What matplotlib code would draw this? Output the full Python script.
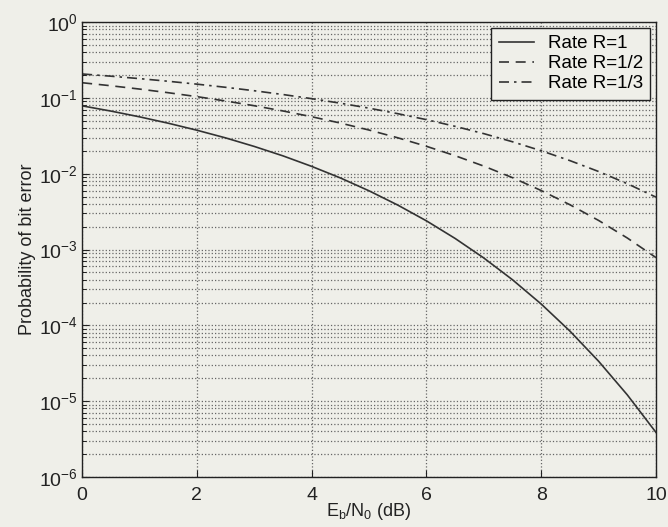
import matplotlib
matplotlib.use("Agg")
import matplotlib.pyplot as plt
from matplotlib.ticker import LogLocator, NullFormatter

plt.rcParams['font.family'] = ['Liberation Sans', 'DejaVu Sans']
plt.rcParams['mathtext.fontset'] = 'custom'
plt.rcParams['mathtext.rm'] = 'Liberation Sans'
plt.rcParams['mathtext.it'] = 'Liberation Sans'
plt.rcParams['mathtext.bf'] = 'Liberation Sans'

ebn0_db = [0, 0.5, 1, 1.5, 2, 2.5, 3, 3.5, 4, 4.5, 5, 5.5, 6, 6.5, 7, 7.5, 8, 8.5, 9, 9.5, 10]
pb_r1 = [0.0786, 0.0671, 0.0563, 0.0464, 0.0375, 0.0297, 0.0229, 0.0172, 0.0125, 0.0088,
         0.00595, 0.00386, 0.00239, 0.0014, 7.73e-4, 3.99e-4, 1.91e-4, 8.4e-5, 3.36e-5,
         1.21e-5, 3.87e-6]
pb_r12 = [0.1587, 0.1448, 0.1309, 0.1172, 0.104, 0.0911, 0.0789, 0.0673, 0.0565, 0.0466,
          0.0377, 0.0298, 0.023, 0.0173, 0.0126, 0.00887, 0.006, 0.0039, 0.00242, 0.00142,
          7.83e-4]
pb_r13 = [0.2071, 0.1936, 0.1798, 0.1659, 0.152, 0.1381, 0.1244, 0.1109, 0.0978, 0.0852,
          0.0733, 0.062, 0.0517, 0.0422, 0.0338, 0.0264, 0.0201, 0.0149, 0.0107, 0.00739,
          0.00491]
labels = ['Rate R=1', 'Rate R=1/2', 'Rate R=1/3']
xticks = [0, 2, 4, 6, 8, 10]
yexps = [-6, -5, -4, -3, -2, -1, 0]

bg = '#efefe9'
fig = plt.figure(figsize=(6.68, 5.27), dpi=100, facecolor=bg)
ax = fig.add_axes([0.123, 0.095, 0.859, 0.863], facecolor=bg)

lc = '#333333'
ax.semilogy(ebn0_db, pb_r1, '-', color=lc, lw=1.2, label=labels[0])
ax.semilogy(ebn0_db, pb_r12, '--', color=lc, lw=1.2, label=labels[1], dashes=(6, 4))
ax.semilogy(ebn0_db, pb_r13, '-.', color=lc, lw=1.2, label=labels[2], dashes=(6, 3, 1.5, 3))

ax.set_xlim(0, 10)
ax.set_ylim(1e-6, 1)
ax.set_xticks(xticks)
ax.set_xticklabels([str(v) for v in xticks])
ax.set_yticks([10.0 ** e for e in yexps])
ax.set_yticklabels([r'$\mathregular{10^{%d}}$' % e for e in yexps])
ax.yaxis.set_minor_locator(LogLocator(base=10, subs=range(2, 10), numticks=10))
ax.yaxis.set_minor_formatter(NullFormatter())

ax.grid(True, which='major', axis='both', linestyle=':', color='#666666', lw=0.9)
ax.grid(True, which='minor', axis='y', linestyle=':', color='#666666', lw=0.9)

ax.tick_params(axis='x', which='major', labelsize=14, direction='in', length=5, pad=7, colors='#222222')
ax.tick_params(axis='y', which='major', labelsize=14, direction='in', length=5, pad=3, colors='#222222')
ax.tick_params(axis='y', which='minor', direction='in', length=3)
for s in ax.spines.values():
    s.set_color('#222222')
    s.set_linewidth(1.0)

ax.set_xlabel(r'E$_\mathregular{b}$/N$_\mathregular{0}$ (dB)', fontsize=13, color='#222222', labelpad=-2)
ax.set_ylabel('Probability of bit error', fontsize=13, color='#222222', labelpad=2)

leg = ax.legend(loc='upper right', fontsize=13.5, frameon=True, fancybox=False,
                edgecolor='#222222', facecolor=bg, framealpha=1, borderaxespad=0.3,
                handlelength=1.9, labelspacing=0.15, borderpad=0.4, handletextpad=0.7)
leg.get_frame().set_linewidth(1.0)

fig.savefig('out.png', dpi=100, facecolor=bg)
